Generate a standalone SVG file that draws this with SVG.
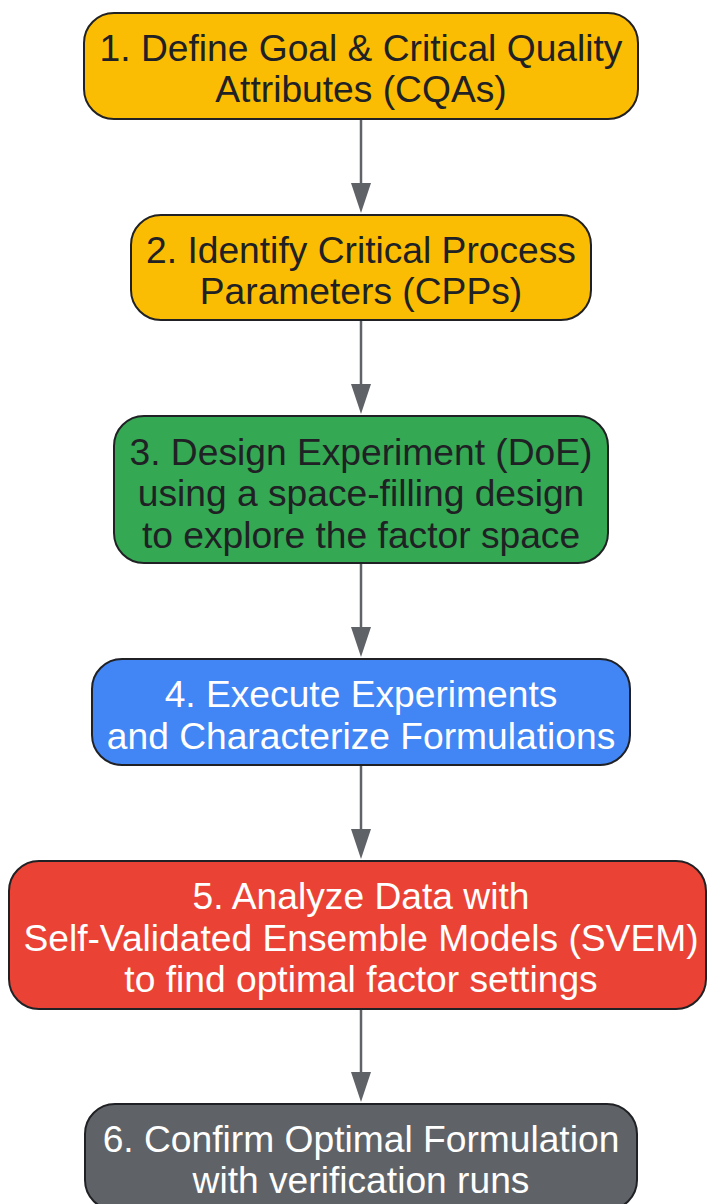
<svg xmlns="http://www.w3.org/2000/svg" width="707" height="1204" viewBox="0 0 707 1204">
<defs>
<style>
.n{stroke:#202124;stroke-width:2}
.t{font-family:"Liberation Sans",Arial,sans-serif;font-size:37.2px;text-anchor:middle}
.d{fill:#202124}
.w{fill:#ffffff}
.c{stroke:#5F6368;stroke-width:2.5;fill:none}
.h{fill:#5F6368}
</style>
</defs>
<rect width="707" height="1204" fill="#ffffff"/>
<g id="connectors">
<line class="c" x1="361" y1="119" x2="361" y2="185"/>
<path class="h" d="M351,183 L371,183 L361,213 Z"/>
<line class="c" x1="361" y1="320" x2="361" y2="386"/>
<path class="h" d="M351,384 L371,384 L361,414 Z"/>
<line class="c" x1="361" y1="563" x2="361" y2="629"/>
<path class="h" d="M351,627 L371,627 L361,657 Z"/>
<line class="c" x1="361" y1="765" x2="361" y2="831"/>
<path class="h" d="M351,829 L371,829 L361,859 Z"/>
<line class="c" x1="361" y1="1009" x2="361" y2="1074"/>
<path class="h" d="M351,1072 L371,1072 L361,1102 Z"/>
</g>
<g id="node1">
<rect class="n" x="84" y="13" width="554" height="106" rx="30" fill="#FBBC04"/>
<text class="t d" x="361" y="61">1. Define Goal &amp; Critical Quality</text>
<text class="t d" x="361" y="102">Attributes (CQAs)</text>
</g>
<g id="node2">
<rect class="n" x="131" y="215" width="460" height="105" rx="30" fill="#FBBC04"/>
<text class="t d" x="361" y="263">2. Identify Critical Process</text>
<text class="t d" x="361" y="304">Parameters (CPPs)</text>
</g>
<g id="node3">
<rect class="n" x="114" y="416" width="494" height="147" rx="30" fill="#34A853"/>
<text class="t d" x="361" y="465">3. Design Experiment (DoE)</text>
<text class="t d" x="361" y="506">using a space-filling design</text>
<text class="t d" x="361" y="548">to explore the factor space</text>
</g>
<g id="node4">
<rect class="n" x="92" y="659" width="538" height="106" rx="30" fill="#4285F4"/>
<text class="t w" x="361" y="707">4. Execute Experiments</text>
<text class="t w" x="361" y="749">and Characterize Formulations</text>
</g>
<g id="node5">
<rect class="n" x="9" y="861" width="697" height="148" rx="30" fill="#EA4335"/>
<text class="t w" x="361" y="909">5. Analyze Data with</text>
<text class="t w" x="361" y="951">Self-Validated Ensemble Models (SVEM)</text>
<text class="t w" x="361" y="992">to find optimal factor settings</text>
</g>
<g id="node6">
<rect class="n" x="85" y="1104" width="552" height="106" rx="30" fill="#5F6368"/>
<text class="t w" x="361" y="1152">6. Confirm Optimal Formulation</text>
<text class="t w" x="361" y="1193">with verification runs</text>
</g>
</svg>
